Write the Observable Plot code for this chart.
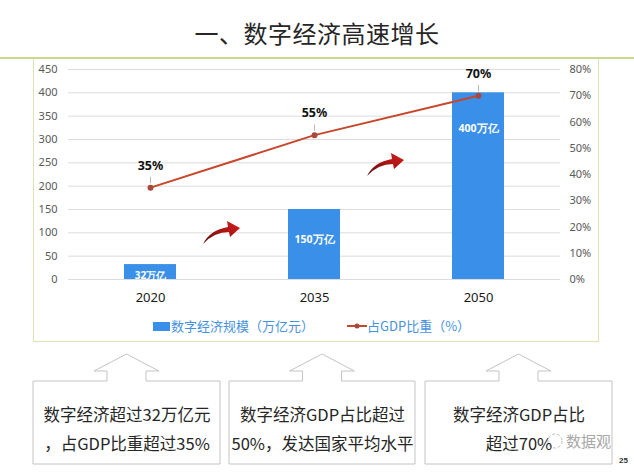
<!DOCTYPE html>
<html><head><meta charset="utf-8">
<script src="https://cdn.jsdelivr.net/npm/d3@7"></script>
<script src="https://cdn.jsdelivr.net/npm/@observablehq/plot@0.6"></script>
<style>
body{margin:0;width:634px;height:476px;background:#fff;position:relative;overflow:hidden;font-family:"Noto Sans CJK SC","Noto Sans",sans-serif;}
#title{position:absolute;top:18px;left:0;width:634px;text-align:center;font-size:24px;line-height:30px;color:#262626;font-weight:400;letter-spacing:0.5px;}
#topline{position:absolute;top:57px;left:0;width:634px;height:2px;background:#c8d98c;}
#box{position:absolute;left:33px;top:59px;width:564px;height:282px;border:1px solid #dbe5b4;border-top:none;}
#chart{position:absolute;left:0;top:58px;}
#legend{position:absolute;top:316px;left:0;width:634px;height:20px;font-size:13px;color:#4792e0;}
#legend .it{position:absolute;top:0;line-height:20px;white-space:nowrap;}
#deco{position:absolute;left:0;top:0;}
.txt{position:absolute;text-align:center;font-size:16.5px;line-height:29px;color:#262626;}
#wm{position:absolute;left:566px;top:430px;font-size:15px;color:#a8a8a8;}
#pg{position:absolute;left:619px;top:456px;font-size:8px;font-weight:bold;color:#333;font-family:"Liberation Sans",sans-serif;}
</style></head>
<body>
<div id="title">一、数字经济高速增长</div>
<div id="topline"></div>
<div id="box"></div>
<div id="chart"></div>
<div id="legend"></div>
<svg id="deco" width="634" height="476"></svg>
<div class="txt" style="left:33px;top:400px;width:188px;">数字经济超过32万亿元<br>，占GDP比重超过35%</div>
<div class="txt" style="left:229px;top:400px;width:187px;">数字经济GDP占比超过<br>50%，发达国家平均水平</div>
<div class="txt" style="left:425px;top:400px;width:188px;">数字经济GDP占比<br>超过70%</div>
<div id="wm">数据观</div>
<div id="pg">25</div>
<script>
// ---- data ----
const years = ["2020", "2035", "2050"];
const scaleValues = [32, 150, 400];          // 数字经济规模（万亿元）
const gdpShare = [35, 55, 70];               // 占GDP比重（%）
const barLabels = ["32万亿", "150万亿", "400万亿"];
const leftTicks = [0, 50, 100, 150, 200, 250, 300, 350, 400, 450];
const rightTicks = [0, 10, 20, 30, 40, 50, 60, 70, 80];
const seriesNames = ["数字经济规模（万亿元）", "占GDP比重（%）"];

const LMAX = 450, RMAX = 80;
const toLeft = p => p * LMAX / RMAX;
const data = years.map((y, i) => ({year: y, value: scaleValues[i], share: gdpShare[i], label: barLabels[i]}));

const barColor = "#3a8fe8";
const lineColor = "#c8472b";
const labelDy = [11, 30, 36];

const chart = Plot.plot({
  width: 634, height: 260,
  marginLeft: 68, marginRight: 74, marginTop: 11, marginBottom: 39,
  style: {fontFamily: "'Noto Sans', sans-serif", fontSize: "11px", background: "transparent"},
  x: {domain: years, padding: 0, label: null},
  y: {domain: [0, LMAX], label: null},
  marks: [
    Plot.gridY(leftTicks, {stroke: "#dcdcdc", strokeOpacity: 1}),
    Plot.axisY(leftTicks, {tickSize: 0, tickPadding: 11, fill: "#595959", fontSize: 11, label: null}),
    Plot.axisY(rightTicks.map(toLeft), {anchor: "right", tickSize: 0, tickPadding: 9, fill: "#595959", fontSize: 11,
      tickFormat: d => Math.round(d * RMAX / LMAX) + "%", label: null}),
    Plot.axisX({tickSize: 0, tickPadding: 13, fill: "#1a1a1a", fontSize: 13, label: null}),
    Plot.barY(data, {x: "year", y: "value", fill: barColor, insetLeft: 56, insetRight: 56}),
    ...data.map((d, i) => Plot.text([d], {x: "year", y: "value", text: "label", dy: labelDy[i],
      fill: "white", fontWeight: "bold", fontSize: i === 0 ? 10 : 10.5})),
    Plot.ruleX(data, {x: "year", y1: d => toLeft(d.share) + 8, y2: d => toLeft(d.share) + 22,
      stroke: "#aaaaaa", strokeWidth: 0.8}),
    Plot.line(data, {x: "year", y: d => toLeft(d.share), stroke: lineColor, strokeWidth: 2}),
    Plot.dot(data, {x: "year", y: d => toLeft(d.share), r: 3, fill: "#a8483e"}),
    Plot.text(data, {x: "year", y: d => toLeft(d.share), text: d => d.share + "%", dy: -22,
      fontWeight: "bold", fontSize: 12.5, fill: "#111"})
  ]
});
document.getElementById("chart").appendChild(chart);

// legend
const lg = document.getElementById("legend");
lg.innerHTML =
  `<div class="it" style="left:153px;"><span style="display:inline-block;width:17px;height:9px;background:${barColor};vertical-align:middle;margin-right:1px;position:relative;top:-1px;"></span>${seriesNames[0]}</div>` +
  `<div class="it" style="left:347px;"><svg width="20" height="10" style="vertical-align:middle;position:relative;top:-1px;"><line x1="0" y1="5" x2="20" y2="5" stroke="${lineColor}" stroke-width="2"/><circle cx="10" cy="5" r="2.5" fill="#a8483e"/></svg>${seriesNames[1]}</div>`;

// decorations: callout boxes and red curved arrows
const deco = d3.select("#deco");
const defs = deco.append("defs");
const g = defs.append("linearGradient").attr("id", "rg").attr("x1", "0").attr("y1", "1").attr("x2", "1").attr("y2", "0");
g.append("stop").attr("offset", "0").attr("stop-color", "#5a0a0a");
g.append("stop").attr("offset", "0.6").attr("stop-color", "#b01515");
g.append("stop").attr("offset", "1").attr("stop-color", "#d02020");
[[33, 220], [229, 415], [425, 612]].forEach(([x0, x1]) => {
  const c = (x0 + x1) / 2;
  deco.append("path")
    .attr("d", `M${x0},381 H${c - 19.5} V371 H${c - 32.5} L${c},354 L${c + 32.5},371 H${c + 19.5} V381 H${x1} V464 H${x0} Z`)
    .attr("fill", "none").attr("stroke", "#c4c4c4").attr("stroke-width", 1);
});
[[203, 218], [367, 150]].forEach(([x, y]) => {
  deco.append("path")
    .attr("transform", `translate(${x},${y})`)
    .attr("d", "M0,26 Q7,12 25,9 L24,3 L37,10 L27,19 L26,14 Q11,14 0,26 Z")
    .attr("fill", "url(#rg)");
});
// watermark icon
deco.append("circle").attr("cx", 555).attr("cy", 441).attr("r", 7).attr("fill", "none")
  .attr("stroke", "#bbb").attr("stroke-width", 1).attr("stroke-dasharray", "3,2");
</script>
</body></html>
